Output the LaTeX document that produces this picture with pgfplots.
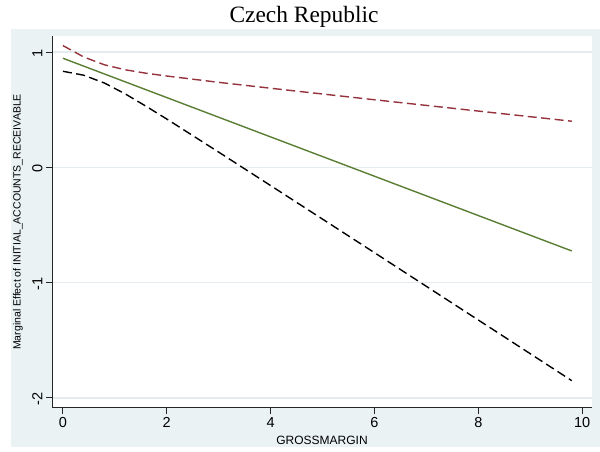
\documentclass[border=0pt]{standalone}
\usepackage{pgfplots}
\pgfplotsset{compat=1.18}
\usepackage{fontspec}
\setmainfont{Liberation Serif}
\setsansfont{Liberation Sans}
\definecolor{bgc}{RGB}{234,242,243}
\definecolor{gridc}{RGB}{228,236,239}
\definecolor{grn}{RGB}{90,127,52}
\definecolor{mar}{RGB}{150,50,60}
\begin{document}
\begin{tikzpicture}[x=1pt,y=1pt]
\useasboundingbox (0,0) rectangle (600,452);
\fill[bgc] (11,5) rectangle (600,423);
\node[font=\fontsize{23.4}{27}\selectfont, anchor=base, inner sep=0pt] at (304,429) {Czech Republic};
\begin{axis}[at={(52pt,44pt)}, anchor=south west, scale only axis, width=540pt, height=372pt,
 xmin=-0.21, xmax=10.19, ymin=-2.087, ymax=1.139,
 axis lines=left, axis line style={-, line width=1pt, color=black!85},
 axis background/.style={fill=white},
 tick align=outside, major tick length=6pt, tick style={line width=1pt, color=black!85},
 xtick={0,2,4,6,8,10}, xticklabels={0,2,4,6,8,10},
 ytick={-2,-1,0,1}, yticklabels={-2,-1,0,1},
 ymajorgrids, grid style={gridc, line width=1.2pt},
 ticklabel style={font=\fontsize{14.5}{16}\sffamily},
 yticklabel style={rotate=90, anchor=south, xshift=-1pt},
 xlabel={GROSSMARGIN}, ylabel={Marginal Effect of INITIAL\_ACCOUNTS\_RECEIVABLE},
 xlabel style={at={(axis description cs:0.5,0)}, anchor=center, yshift=-32pt, font=\fontsize{12}{14}\sffamily},
 ylabel style={at={(axis description cs:-0.063,0.5)}, anchor=center, font=\fontsize{10.5}{12}\sffamily},
 clip=false,
]
\addplot[grn, line width=1.4pt] coordinates {(0,0.946) (9.8,-0.725)};
\addplot[mar, line width=1.4pt, dash pattern=on 9pt off 4.5pt] coordinates {
(0,1.056) (0.4,0.957) (0.8,0.889) (1.2,0.846) (1.6,0.816) (2,0.792) (3,0.737) (4,0.686) (5,0.636) (6,0.586) (7,0.537) (8,0.488) (9,0.439) (9.8,0.400)};
\addplot[black, line width=1.4pt, dash pattern=on 9pt off 4.5pt] coordinates {
(0,0.833) (0.4,0.799) (0.8,0.731) (1.2,0.637) (1.6,0.530) (2,0.419) (3,0.132) (4,-0.158) (5,-0.449) (6,-0.740) (7,-1.032) (8,-1.324) (9,-1.616) (9.8,-1.850)};
\end{axis}
\end{tikzpicture}
\end{document}
